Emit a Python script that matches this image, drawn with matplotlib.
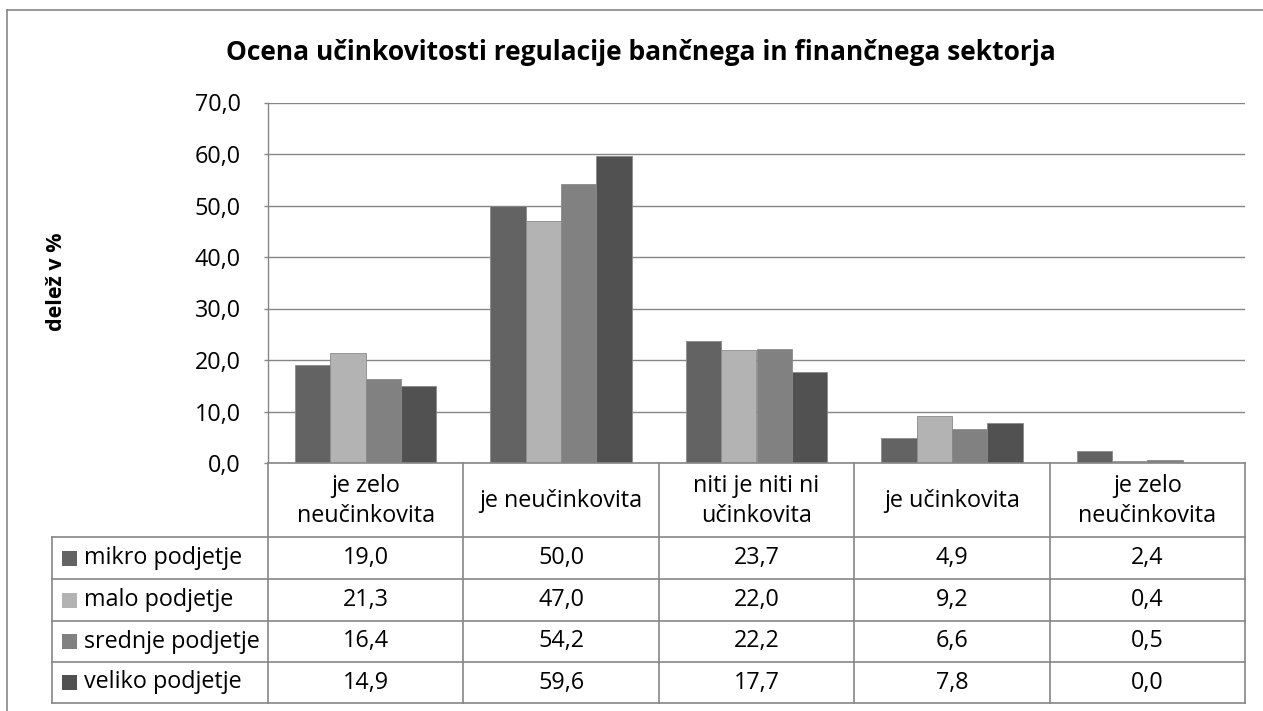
import matplotlib
matplotlib.use("Agg")
import matplotlib.pyplot as plt
from matplotlib.patches import Rectangle
from matplotlib.lines import Line2D
import numpy as np

plt.rcParams['font.family'] = ['Open Sans', 'DejaVu Sans']

title = "Ocena učinkovitosti regulacije bančnega in finančnega sektorja"
ylabel = "delež v %"
categories = ["je zelo\nneučinkovita", "je neučinkovita", "niti je niti ni\nučinkovita",
              "je učinkovita", "je zelo\nneučinkovita"]
series_names = ["mikro podjetje", "malo podjetje", "srednje podjetje", "veliko podjetje"]
mikro = [19.0, 50.0, 23.7, 4.9, 2.4]
malo = [21.3, 47.0, 22.0, 9.2, 0.4]
srednje = [16.4, 54.2, 22.2, 6.6, 0.5]
veliko = [14.9, 59.6, 17.7, 7.8, 0.0]
series_values = [mikro, malo, srednje, veliko]
colors = ["#636363", "#b3b3b3", "#818181", "#515151"]
yticks = [0, 10, 20, 30, 40, 50, 60, 70]

FS = 16.8

W, H = 1263, 711
fig = plt.figure(figsize=(W / 100, H / 100), dpi=100)
fig.patch.set_facecolor("white")

GRID = "#868686"
# plot area pixel geometry
px_l, px_r, px_t, px_b = 268, 1245, 102.5, 463
ax = fig.add_axes([px_l / W, 1 - px_b / H, (px_r - px_l) / W, (px_b - px_t) / H])
n = len(categories)
x = np.arange(n)
bw = 0.181
for i, (vals, c) in enumerate(zip(series_values, colors)):
    ax.bar(x + (i - 1.5) * bw, vals, width=bw, color=c, edgecolor="#8a8a8a",
           linewidth=0.6, zorder=3)
ax.set_xlim(-0.5, n - 0.5)
ax.set_ylim(0, 70)
ax.set_yticks(yticks)
ax.set_yticklabels([f"{v:.1f}".replace(".", ",") for v in yticks], fontsize=FS)
ax.set_xticks([])
ax.yaxis.grid(True, color=GRID, linewidth=1.0, zorder=0)
for s in ["top", "right", "bottom"]:
    ax.spines[s].set_visible(False)
ax.spines["left"].set_color(GRID)
ax.spines["left"].set_linewidth(1.0)
ax.tick_params(axis="y", length=3, color=GRID, width=1.0, pad=16.5)

# overlay for table and frame, pixel coords
ov = fig.add_axes([0, 0, 1, 1], zorder=5)
ov.set_xlim(0, W)
ov.set_ylim(H, 0)
ov.axis("off")

ov.text(57, 282, ylabel, rotation=90, ha="center", va="center",
        fontsize=15.5, fontweight="bold")

def hline(y, x0, x1):
    ov.add_line(Line2D([x0, x1], [y, y], color=GRID, linewidth=1.2))

def vline(xp, y0, y1):
    ov.add_line(Line2D([xp, xp], [y0, y1], color=GRID, linewidth=1.2))

# outer frame
hline(10, 7, W)
vline(7, 10, H)

tab_left = 52
col_w = (px_r - px_l) / n
col_edges = [px_l + k * col_w for k in range(n + 1)]
row_edges = [463, 537, 579, 621, 662, 703]

hline(row_edges[0], px_l, px_r)
for r in row_edges[1:]:
    hline(r, tab_left, px_r)
vline(tab_left, row_edges[1], row_edges[-1])
for k, ce in enumerate(col_edges):
    vline(ce, row_edges[0], row_edges[-1])

# header labels
for k, cat in enumerate(categories):
    cx = (col_edges[k] + col_edges[k + 1]) / 2
    ov.text(cx, (row_edges[0] + row_edges[1]) / 2 + 1, cat, ha="center", va="center",
            fontsize=FS, linespacing=1.3)

# rows
for r, (name, vals, c) in enumerate(zip(series_names, series_values, colors)):
    yc = (row_edges[r + 1] + row_edges[r + 2]) / 2
    ov.add_patch(Rectangle((62, yc - 7.5), 15, 15, facecolor=c, edgecolor="none"))
    ov.text(84, yc, name, ha="left", va="center", fontsize=FS)
    for k, v in enumerate(vals):
        cx = (col_edges[k] + col_edges[k + 1]) / 2
        ov.text(cx, yc, f"{v:.1f}".replace(".", ","), ha="center", va="center", fontsize=FS)

fig.text(641 / W, 1 - 52 / H, title, ha="center", va="center", fontsize=19,
         fontweight="bold")

fig.savefig("out.png", dpi=100)
